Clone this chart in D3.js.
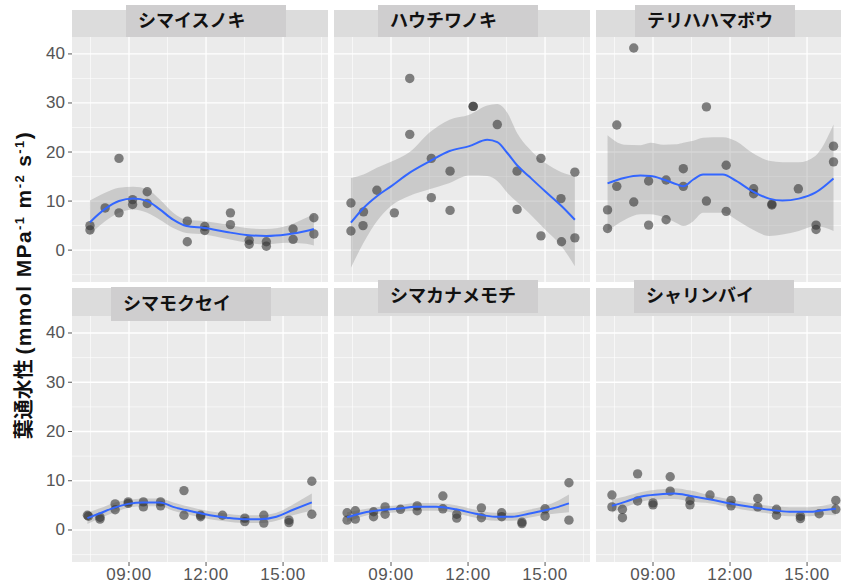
<!DOCTYPE html>
<html>
<head>
<meta charset="utf-8">
<script src="https://cdn.jsdelivr.net/npm/d3@7"></script>
<style>
  body { margin: 0; background: #fff; }
  svg { display: block; }
</style>
</head>
<body>
<svg id="chart" width="841" height="586"></svg>
<script>
// species names (facet order)
const species = ["シマイスノキ", "ハウチワノキ", "テリハハマボウ", "シマモクセイ", "シマカナメモチ", "シャリンバイ"];

// measured points: time (decimal hours) and conductance
const p1T = [7.48,7.48,8.07,8.61,8.61,9.14,9.14,9.71,9.71,11.27,11.27,11.95,11.95,12.95,12.95,13.68,13.68,14.35,14.35,15.39,15.39,16.2,16.2];
const p1V = [5.0,4.1,8.6,18.7,7.6,10.3,9.3,11.9,9.5,5.9,1.7,4.8,4.0,7.6,5.2,2.0,1.2,1.7,0.8,4.3,2.2,6.6,3.3];
const p2T = [7.44,7.44,7.93,7.91,8.45,9.13,9.73,9.73,10.57,10.57,11.3,11.3,12.2,12.2,13.14,13.91,13.91,14.84,14.84,15.62,15.64,16.16,16.16];
const p2V = [9.6,3.9,7.8,5.0,12.2,7.6,35.0,23.6,18.7,10.7,16.1,8.1,29.3,29.3,25.6,16.1,8.3,18.7,2.9,10.5,1.7,15.9,2.5];
const p3T = [7.23,7.23,7.59,7.59,8.25,8.25,8.83,8.83,9.51,9.51,10.18,10.18,11.08,11.08,11.85,11.85,12.92,12.92,13.63,13.63,14.66,15.35,15.35,16.03,16.03];
const p3V = [8.2,4.4,25.5,13.0,41.2,9.8,14.1,5.1,14.3,6.2,16.6,13.0,29.2,10.0,17.3,7.9,12.5,11.5,9.4,9.2,12.5,5.1,4.2,21.2,18.0];
const p4T = [7.38,7.42,7.87,7.87,8.46,8.46,8.97,8.97,9.56,9.56,10.23,10.23,11.14,11.14,11.79,11.79,12.64,13.51,13.51,14.25,14.25,15.23,15.23,16.12,16.12];
const p4V = [3.0,2.8,2.6,2.2,5.3,4.1,5.7,5.4,5.7,4.7,5.7,4.9,8.0,3.0,3.0,2.7,3.0,2.4,1.7,3.0,1.4,2.0,1.5,9.9,3.2];
const p5T = [7.29,7.29,7.61,7.61,8.32,8.32,8.77,8.77,9.37,10.02,10.02,11.02,11.02,11.56,11.56,12.52,12.52,13.31,13.31,14.1,14.1,15.0,15.0,15.93,15.93];
const p5V = [3.5,2.0,3.9,2.2,3.7,2.7,4.7,3.2,4.2,4.9,3.9,6.9,4.3,3.2,2.4,4.5,2.5,3.5,2.7,1.6,1.3,4.3,2.8,9.6,2.0];
const p6T = [7.4,7.4,7.81,7.81,8.4,8.4,9.0,9.0,9.67,9.67,10.44,10.44,11.22,12.04,12.04,13.08,13.08,13.81,13.81,14.74,14.74,15.47,16.12,16.12];
const p6V = [7.1,4.7,4.2,2.5,11.4,5.9,5.5,5.1,10.8,7.9,6.0,5.1,7.1,6.0,4.9,6.4,4.7,4.2,3.0,2.8,2.3,3.3,6.0,4.2];

// smoother: time, fit, lower and upper band
const f1T  = [7.48,8.07,8.61,9.17,9.71,10.2,10.72,11.24,11.95,12.8,13.57,14.35,15.13,15.9,16.2];
const f1V  = [5.7,8.4,10.0,10.5,10.0,8.3,6.2,4.9,4.5,3.7,3.1,2.9,3.2,3.9,4.3];
const f1Lo = [3.2,5.9,7.6,8.3,7.6,6.2,4.5,3.5,3.2,2.3,1.5,1.2,1.5,1.3,0.95];
const f1Hi = [10.1,11.7,12.7,12.9,12.4,10.3,7.6,6.2,5.9,5.2,4.5,4.3,4.9,6.6,7.3];
const f2T  = [7.44,7.93,8.45,9.0,9.73,10.5,11.28,12.05,12.75,13.14,13.53,13.91,14.36,15.0,15.64,16.16];
const f2V  = [5.6,8.6,11.0,13.0,15.8,18.1,20.2,21.2,22.5,22.0,19.8,17.3,15.1,12.0,9.0,6.2];
const f2Lo = [-3.6,1.5,5.9,9.0,11.1,12.4,13.7,15.2,15.1,14.1,11.7,9.8,7.6,4.2,0.8,-3.3];
const f2Hi = [14.7,15.4,16.8,18.0,20.0,24.0,26.6,27.6,29.5,29.8,28.0,23.9,20.8,17.8,15.9,15.1];
const f3T  = [7.23,7.87,8.51,8.9,9.41,9.93,10.18,10.57,10.95,11.72,12.24,12.88,13.52,14.04,14.68,15.32,16.03];
const f3V  = [13.6,14.7,15.2,15.1,14.4,13.4,13.0,14.4,15.4,15.4,14.1,12.0,10.5,10.1,10.5,11.7,14.6];
const f3Lo = [3.9,6.1,7.3,7.3,6.7,5.5,4.9,5.9,7.6,7.6,6.2,4.2,2.9,3.2,3.9,4.9,3.9];
const f3Hi = [23.4,21.5,21.4,21.9,21.5,21.6,21.9,22.3,22.9,23.0,22.2,19.8,18.2,17.9,17.9,19.2,25.6];
const f4T  = [7.38,7.87,8.46,8.97,9.56,10.2,10.72,11.5,12.15,12.8,13.44,14.09,14.74,15.39,16.12];
const f4V  = [2.4,3.4,4.6,5.3,5.6,5.6,4.7,3.7,3.0,2.5,2.2,2.2,2.7,4.1,5.6];
const f4Lo = [1.2,2.4,3.6,4.5,4.8,4.8,3.9,2.9,2.2,1.7,1.4,1.4,1.9,3.0,3.9];
const f4Hi = [3.5,4.4,5.6,6.1,6.4,6.4,5.6,4.5,3.8,3.3,3.0,3.0,3.5,5.2,7.4];
const f5T  = [7.29,7.93,8.58,9.22,9.99,10.76,11.53,12.3,13.07,13.72,14.36,15.0,15.52,15.93];
const f5V  = [2.6,3.5,4.0,4.3,4.7,4.7,4.2,3.3,2.7,2.7,3.3,4.0,4.7,5.4];
const f5Lo = [1.6,2.8,3.3,3.6,3.9,3.9,3.4,2.5,1.9,1.9,2.5,3.1,3.4,3.6];
const f5Hi = [3.6,4.2,4.7,5.0,5.5,5.5,5.0,4.1,3.5,3.5,4.1,4.9,6.0,7.2];
const f6T  = [7.4,7.91,8.55,9.19,9.83,10.47,11.24,12.01,12.78,13.55,14.32,15.09,15.6,16.12];
const f6V  = [4.9,5.7,6.8,7.2,7.4,6.9,6.2,5.4,4.7,4.1,3.7,3.7,4.0,4.3];
const f6Lo = [3.5,4.6,5.8,6.2,6.3,5.8,5.4,4.6,3.9,3.3,2.8,2.8,3.1,3.0];
const f6Hi = [6.2,6.8,7.7,8.2,8.5,8.0,7.0,6.2,5.5,4.9,4.6,4.6,4.9,5.6];

// axis ticks
const yTicks = [0, 10, 20, 30, 40];
const yMinor = [-5, 5, 15, 25, 35];
const xTicks = [9, 12, 15];
const xMinor = [7.5, 10.5, 13.5, 16.5];
const xTickLabels = ["09:00", "12:00", "15:00"];

const pts = [[p1T,p1V],[p2T,p2V],[p3T,p3V],[p4T,p4V],[p5T,p5V],[p6T,p6V]];
const fits = [[f1T,f1V,f1Lo,f1Hi],[f2T,f2V,f2Lo,f2Hi],[f3T,f3V,f3Lo,f3Hi],
              [f4T,f4V,f4Lo,f4Hi],[f5T,f5V,f5Lo,f5Hi],[f6T,f6V,f6Lo,f6Hi]];

// layout
const svg = d3.select("#chart");
const panelW = 256;
const colX = [72, 334, 596];
const rowY = [{top: 37, bottom: 282, strip: 10}, {top: 316, bottom: 562, strip: 288}];
// label boxes sit a bit off centre in the original
const boxOff = [{dx: 54, y: 5, h: 32}, {dx: 44, y: 5, h: 32}, {dx: 39, y: 5, h: 32},
                {dx: 39, y: 287, h: 34}, {dx: 44, y: 280, h: 33}, {dx: 38, y: 280, h: 33}];
const boxW = 160;

const tickFont = "'Liberation Sans', Arial, sans-serif";
const jpFont = "'Noto Sans CJK JP', sans-serif";

species.forEach((name, i) => {
  const col = i % 3, row = Math.floor(i / 3);
  const x0 = colX[col], r = rowY[row];
  const x = d3.scaleLinear().domain([6.78, 16.75]).range([x0, x0 + panelW]);
  const y = d3.scaleLinear().domain([-6.5, 43.45]).range([r.bottom, r.top]);

  const g = svg.append("g");
  const clipId = "clip" + i;
  svg.append("clipPath").attr("id", clipId)
    .append("rect").attr("x", x0).attr("y", r.top).attr("width", panelW).attr("height", r.bottom - r.top);

  // panel background
  g.append("rect").attr("x", x0).attr("y", r.top).attr("width", panelW).attr("height", r.bottom - r.top)
    .attr("fill", "#ebebeb");

  const grid = g.append("g").attr("clip-path", `url(#${clipId})`);
  grid.selectAll(".ymin").data(yMinor).enter().append("line")
    .attr("x1", x0).attr("x2", x0 + panelW).attr("y1", d => y(d)).attr("y2", d => y(d))
    .attr("stroke", "#fff").attr("stroke-width", 0.6);
  grid.selectAll(".xmin").data(xMinor).enter().append("line")
    .attr("y1", r.top).attr("y2", r.bottom).attr("x1", d => x(d)).attr("x2", d => x(d))
    .attr("stroke", "#fff").attr("stroke-width", 0.6);
  grid.selectAll(".ymaj").data(yTicks).enter().append("line")
    .attr("x1", x0).attr("x2", x0 + panelW).attr("y1", d => y(d)).attr("y2", d => y(d))
    .attr("stroke", "#fff").attr("stroke-width", 1.3);
  grid.selectAll(".xmaj").data(xTicks).enter().append("line")
    .attr("y1", r.top).attr("y2", r.bottom).attr("x1", d => x(d)).attr("x2", d => x(d))
    .attr("stroke", "#fff").attr("stroke-width", 1.3);

  // strip
  g.append("rect").attr("x", x0).attr("y", r.strip).attr("width", panelW).attr("height", r.top - r.strip)
    .attr("fill", "#dcdcdc");
  const b = boxOff[i];
  g.append("rect").attr("x", x0 + b.dx).attr("y", b.y).attr("width", boxW).attr("height", b.h)
    .attr("fill", "#cfcecf");
  g.append("text").attr("x", x0 + b.dx + 12).attr("y", b.y + b.h / 2 + 1)
    .attr("dominant-baseline", "middle")
    .style("font-family", jpFont).style("font-weight", 700).style("font-size", "18px")
    .attr("fill", "#111").text(name);

  // ribbon + smooth line
  const [fT, fV, fLo, fHi] = fits[i];
  const band = fT.map((t, k) => ({t, v: fV[k], lo: fLo[k], hi: fHi[k]}));
  const plot = g.append("g").attr("clip-path", `url(#${clipId})`);
  plot.append("path").datum(band)
    .attr("d", d3.area().x(d => x(d.t)).y0(d => y(d.lo)).y1(d => y(d.hi)).curve(d3.curveMonotoneX))
    .attr("fill", "#999999").attr("fill-opacity", 0.4);

  const [pT, pV] = pts[i];
  plot.selectAll(".point").data(pT.map((t, k) => ({t, v: pV[k]}))).enter()
    .append("circle").attr("class", "point")
    .attr("cx", d => x(d.t)).attr("cy", d => y(d.v)).attr("r", 4.7)
    .attr("fill", "#333").attr("fill-opacity", 0.6);

  plot.append("path").datum(band)
    .attr("d", d3.line().x(d => x(d.t)).y(d => y(d.v)).curve(d3.curveMonotoneX))
    .attr("fill", "none").attr("stroke", "#3366ff").attr("stroke-width", 2);

  // y axis on first column
  if (col === 0) {
    const ya = g.append("g");
    ya.selectAll("line").data(yTicks).enter().append("line")
      .attr("x1", x0 - 4).attr("x2", x0).attr("y1", d => y(d)).attr("y2", d => y(d))
      .attr("stroke", "#555").attr("stroke-width", 1);
    ya.selectAll("text").data(yTicks).enter().append("text")
      .attr("x", x0 - 7).attr("y", d => y(d)).attr("text-anchor", "end").attr("dominant-baseline", "central")
      .style("font-family", tickFont).style("font-size", "17px").attr("fill", "#555")
      .text(d => d);
  }
  // x axis on bottom row
  if (row === 1) {
    const xa = g.append("g");
    xa.selectAll("line").data(xTicks).enter().append("line")
      .attr("x1", d => x(d)).attr("x2", d => x(d)).attr("y1", r.bottom).attr("y2", r.bottom + 4)
      .attr("stroke", "#555").attr("stroke-width", 1);
    xa.selectAll("text").data(xTicks).enter().append("text")
      .attr("x", d => x(d)).attr("y", r.bottom + 18).attr("text-anchor", "middle")
      .style("font-family", tickFont).style("font-size", "17px").style("letter-spacing", "0.6px")
      .attr("fill", "#555")
      .text((d, k) => xTickLabels[k]);
  }
});

// y axis title
const title = svg.append("text")
  .attr("transform", "translate(31,285) rotate(-90)")
  .attr("text-anchor", "middle")
  .style("font-family", "'Liberation Sans', " + jpFont).style("font-weight", 700).style("font-size", "21px")
  .style("letter-spacing", "1.4px")
  .attr("fill", "#111");
title.append("tspan").style("font-family", jpFont).style("font-size", "20px").style("letter-spacing", "0px").text("葉通水性 ");
title.append("tspan").text("(mmol MPa");
title.append("tspan").attr("dy", -7).style("font-size", "13px").text("-1");
title.append("tspan").attr("dy", 7).text(" m");
title.append("tspan").attr("dy", -7).style("font-size", "13px").text("-2");
title.append("tspan").attr("dy", 7).text(" s");
title.append("tspan").attr("dy", -7).style("font-size", "13px").text("-1");
title.append("tspan").attr("dy", 7).text(")");
</script>
</body>
</html>
